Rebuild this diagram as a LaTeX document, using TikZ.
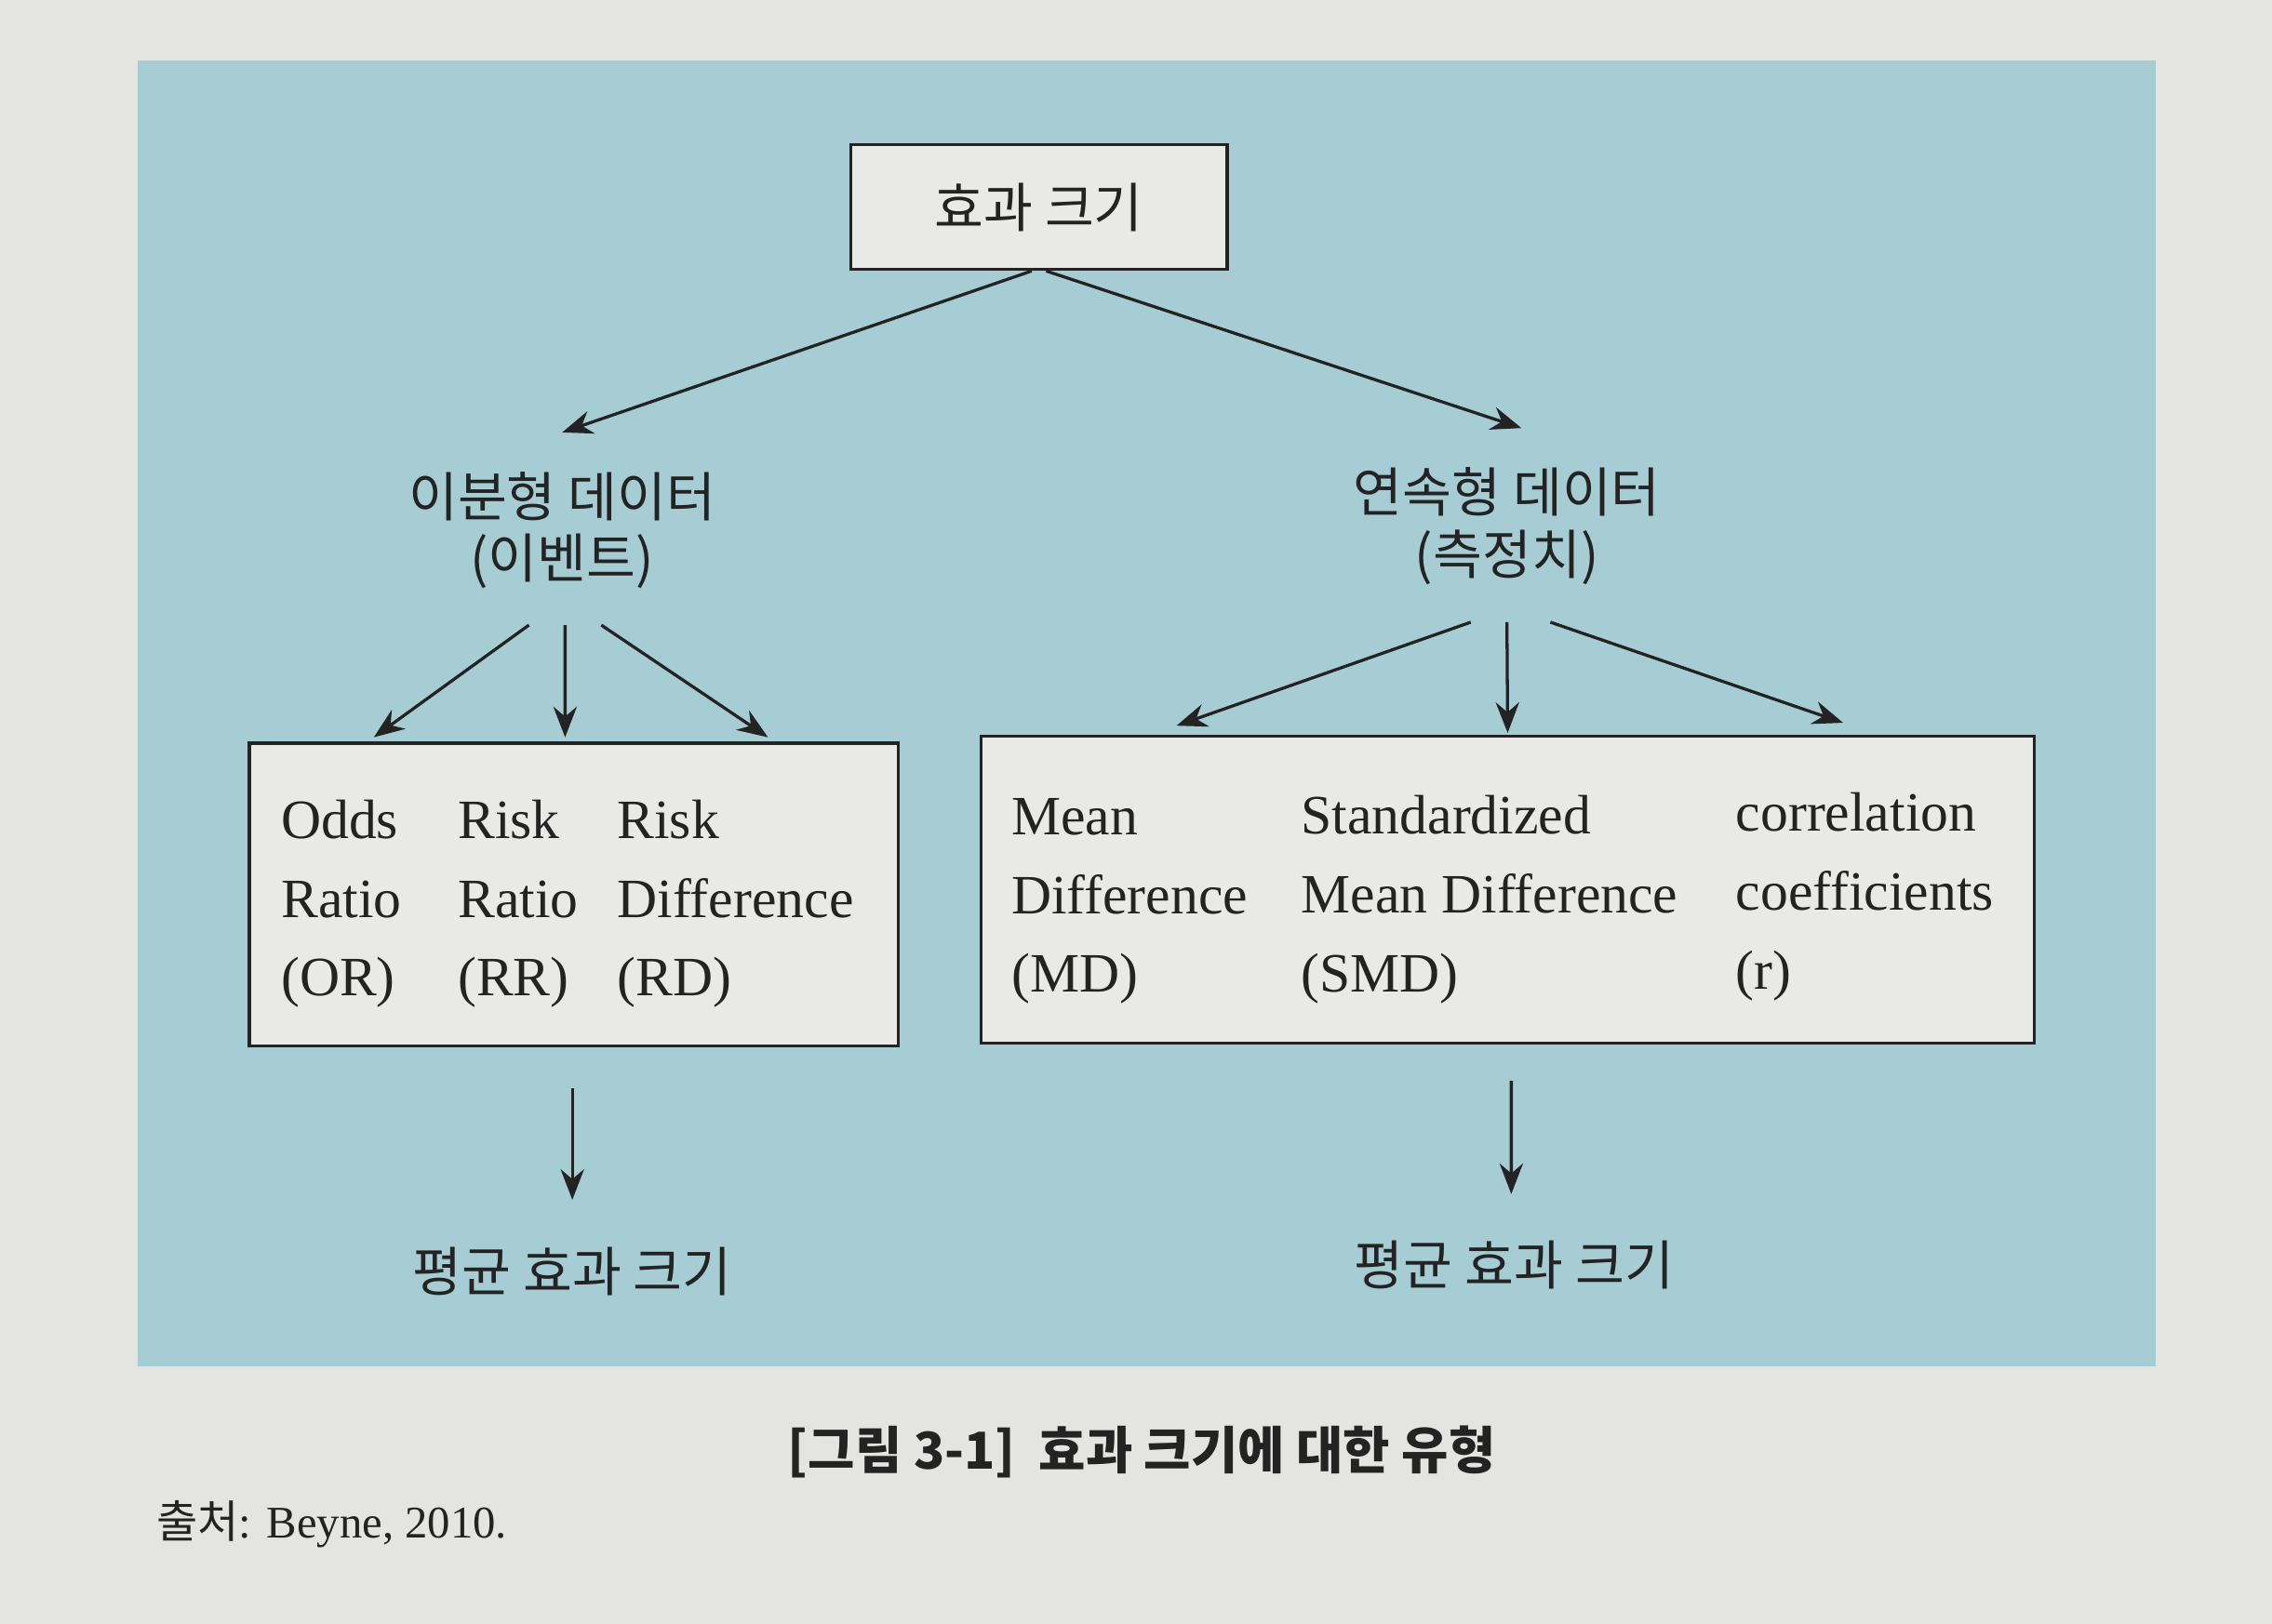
\documentclass[tikz,border=0pt]{standalone}
\usepackage{fontspec}
\setmainfont{Liberation Serif}
\newfontfamily\kr{Noto Sans CJK KR}
\usetikzlibrary{positioning,arrows.meta}
\definecolor{paper}{RGB}{228,228,226}
\definecolor{panel}{RGB}{166,204,212}
\definecolor{boxfill}{RGB}{233,233,231}
\definecolor{ink}{RGB}{35,35,35}
\tikzset{
diagram/.style={
    >={Stealth[length=6pt,width=4.6pt]},
    x=0.1mm,
    y=-0.1mm,
    semithick
},
title/.style={
    draw=ink,
    fill=boxfill,
    minimum width=26mm,
    minimum height=8.6mm,
    text=ink,
    font=\kr\fontsize{10.5}{12}\selectfont
},
kind/.style={
    align=center,
    inner sep=0pt,
    text=ink,
    font=\kr\fontsize{10.5}{12.2}\selectfont
},
group/.style={
    draw=ink,
    fill=boxfill
},
measure/.style={
    align=left,
    anchor=north west,
    inner sep=0pt,
    text=ink,
    font=\fontsize{10.9}{15.5}\selectfont
},
sees/.style={
    ->,
    draw=ink
}}

\begin{document}
\begin{tikzpicture}[diagram]
\fill[paper] (0,0) rectangle (1568,1121);
\useasboundingbox (0,0) rectangle (1568,1121);
\fill[panel] (95,42) rectangle (1488,943);

% top
\node[title]    (eff)   at (717,143)    {효과 크기};
\node[kind]     (bin)   at (388,366)    {이분형 데이터\\(이벤트)};
\node[kind]     (cont)  at (1040,363)   {연속형 데이터\\(측정치)};

% boxes
\node[group, minimum width=44.8mm, minimum height=20.9mm]   (lbox)  at (396,617.5)  {};
\node[group, minimum width=72.7mm, minimum height=21.2mm]   (rbox)  at (1040.5,614) {};

\node[measure]  (or)    at (193,551)    {Odds\\Ratio\\(OR)};
\node[measure]  (rr)    at (315,551)    {Risk\\Ratio\\(RR)};
\node[measure]  (rd)    at (425,551)    {Risk\\Difference\\(RD)};
\node[measure]  (md)    at (697,550)    {Mean\\Difference\\(MD)};
\node[measure]  (smd)   at (897,548)    {Standardized\\Mean Difference\\(SMD)};
\node[measure]  (cor)   at (1197,546)   {correlation\\coefficients\\(r)};

% bottom
\node[kind]     (lavg)  at (395,878)    {평균 효과 크기};
\node[kind]     (ravg)  at (1045,873)   {평균 효과 크기};

\node[text=ink, font=\kr\bfseries\fontsize{10}{12}\selectfont]  (cap)   at (788,1002)   {[그림 3-1]\ \ 효과 크기에 대한 유형};
\node[text=ink, anchor=base west, inner sep=0pt, font=\fontsize{8.9}{11}\selectfont]  (src)   at (107,1062)   {{\kr\fontsize{8.8}{11}\selectfont 출처}: Beyne, 2010.};

\path   ([xshift=-0.5mm]eff.south)  edge[sees]  ([yshift=2.6mm]bin.north);
\path   ([xshift=0.5mm]eff.south)   edge[sees]  ([xshift=1mm,yshift=2.6mm]cont.north);

\path   ([xshift=-2.3mm,yshift=-2.4mm]bin.south)    edge[sees]  ([xshift=-13.8mm,yshift=0.3mm]lbox.north);
\path   ([xshift=0.2mm,yshift=-2.4mm]bin.south)     edge[sees]  ([xshift=-0.6mm,yshift=0.3mm]lbox.north);
\path   ([xshift=2.7mm,yshift=-2.4mm]bin.south)     edge[sees]  ([xshift=13.4mm,yshift=0.3mm]lbox.north);

\path   ([xshift=-2.5mm,yshift=-2.5mm]cont.south)   edge[sees]  ([xshift=-22.85mm,yshift=0.6mm]rbox.north);
\path   ([yshift=-2.5mm]cont.south)                 edge[sees]  ([yshift=0.1mm]rbox.north);
\path   ([xshift=3mm,yshift=-2.5mm]cont.south)      edge[sees]  ([xshift=23.15mm,yshift=0.8mm]rbox.north);

\path   ([xshift=-0.1mm,yshift=-2.8mm]lbox.south)   edge[sees]  ([yshift=3.2mm]lavg.north);
\path   ([xshift=0.25mm,yshift=-2.5mm]rbox.south)   edge[sees]  ([xshift=-0.2mm,yshift=3.1mm]ravg.north);
\end{tikzpicture}
\end{document}
